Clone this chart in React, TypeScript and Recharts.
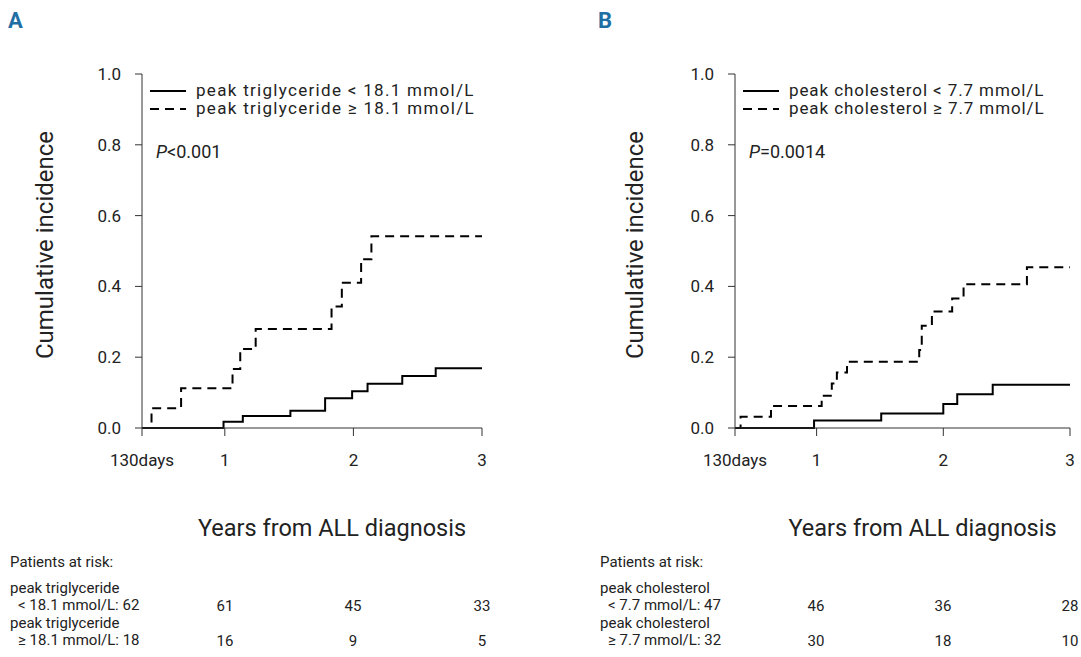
import React from "react";
import { LineChart, Line, XAxis, YAxis } from "recharts";

const xTicks = [0.356, 1, 2, 3];
const yTicks = [0, 0.2, 0.4, 0.6, 0.8, 1.0];

const aLowX = [0.356, 0.99, 1.14, 1.51, 1.78, 1.99, 2.11, 2.38, 2.64, 3];
const aLowY = [0, 0.018, 0.034, 0.049, 0.084, 0.104, 0.125, 0.147, 0.169, 0.169];
const aHighX = [0.356, 0.43, 0.66, 1.06, 1.12, 1.24, 1.83, 1.91, 2.06, 2.14, 3];
const aHighY = [0, 0.056, 0.112, 0.167, 0.223, 0.28, 0.343, 0.41, 0.477, 0.542, 0.542];

const bLowX = [0.356, 0.98, 1.51, 2.0, 2.11, 2.39, 3];
const bLowY = [0, 0.021, 0.041, 0.068, 0.095, 0.122, 0.122];
const bHighX = [0.356, 0.4, 0.64, 1.04, 1.12, 1.16, 1.24, 1.81, 1.83, 1.91, 2.07, 2.16, 2.66, 3];
const bHighY = [0, 0.032, 0.062, 0.091, 0.126, 0.157, 0.187, 0.22, 0.289, 0.329, 0.366, 0.406, 0.454, 0.454];

const riskA = { low: [62, 61, 45, 33], high: [18, 16, 9, 5] };
const riskB = { low: [47, 46, 36, 28], high: [32, 30, 18, 10] };

const FONT = "'Roboto', sans-serif";
const zip = (xs: number[], ys: number[]) => xs.map((x, i) => ({ x, y: ys[i] }));

function Panel({ left, width, yw, low, high, legendLow, legendHigh, pText, label, risk, riskName, riskLow, riskHigh, tickPx, ls }: any) {
  const plotRight = width - (width === 540 ? 58 : 11);
  return (
    <div style={{ position: "absolute", left, top: 0, width, height: 657, fontFamily: FONT, color: "#222" }}>
      <LineChart width={width} height={657} margin={{ top: 74, left: 0, right: width - plotRight, bottom: 189 }}>
        <XAxis type="number" dataKey="x" domain={[0.356, 3]} ticks={xTicks} allowDataOverflow
          tickFormatter={(v: number) => (v < 0.5 ? "130days" : String(v))}
          tick={{ fill: "#222", fontSize: 17, fontFamily: FONT }} tickSize={8} tickMargin={18}
          stroke="#333" height={40} />
        <YAxis type="number" domain={[0, 1]} ticks={yTicks} width={yw}
          tickFormatter={(v: number) => v.toFixed(1)}
          tick={{ fill: "#222", fontSize: 17, fontFamily: FONT }} tickSize={7} tickMargin={14} stroke="#333" />
        <Line data={zip(low[0], low[1])} dataKey="y" type="stepAfter" stroke="#000" strokeWidth={2} dot={false} isAnimationActive={false} />
        <Line data={zip(high[0], high[1])} dataKey="y" type="stepAfter" stroke="#000" strokeWidth={2} strokeDasharray="9 6" dot={false} isAnimationActive={false} />
      </LineChart>
      <div style={{ position: "absolute", left: 8, top: 8, fontSize: 22, fontWeight: "bold", color: "#1f6fa5" }}>{label}</div>
      <svg style={{ position: "absolute", left: yw + 6, top: 82 }} width={42} height={36}>
        <line x1={2} y1={9} x2={38} y2={9} stroke="#000" strokeWidth={2} />
        <line x1={2} y1={27} x2={38} y2={27} stroke="#000" strokeWidth={2} strokeDasharray="9 6" />
      </svg>
      <div style={{ position: "absolute", left: yw + 54, top: 81, fontSize: 17, lineHeight: "19px", whiteSpace: "nowrap", letterSpacing: ls }}>{legendLow}</div>
      <div style={{ position: "absolute", left: yw + 54, top: 99, fontSize: 17, lineHeight: "19px", whiteSpace: "nowrap", letterSpacing: ls }}>{legendHigh}</div>
      <div style={{ position: "absolute", left: yw + 14, top: 141, fontSize: 18 }}><i>P</i>{pText}</div>
      <div style={{ position: "absolute", left: 20, top: 245, transform: "translate(-50%,-50%) rotate(-90deg)", transformOrigin: "center", fontSize: 24, whiteSpace: "nowrap", marginLeft: 25 }}>Cumulative incidence</div>
      <div style={{ position: "absolute", left: (yw + plotRight) / 2 + 20, top: 514, transform: "translateX(-50%)", fontSize: 23.5, whiteSpace: "nowrap" }}>Years from ALL diagnosis</div>
      <div style={{ position: "absolute", left: riskName.x, top: 554, fontSize: 15, lineHeight: "17.5px", whiteSpace: "nowrap" }}>
        <div>Patients at risk:</div>
        <div style={{ marginTop: 8 }}>{riskName.n}</div>
        <div style={{ paddingLeft: 8 }}>{riskLow}: {risk.low[0]}</div>
        <div>{riskName.n}</div>
        <div style={{ paddingLeft: 8 }}>{riskHigh}: {risk.high[0]}</div>
      </div>
      {[1, 2, 3].map((i) => (
        <React.Fragment key={i}>
          <div style={{ position: "absolute", left: tickPx[i], top: 597, transform: "translateX(-50%)", fontSize: 15 }}>{risk.low[i]}</div>
          <div style={{ position: "absolute", left: tickPx[i], top: 632, transform: "translateX(-50%)", fontSize: 15 }}>{risk.high[i]}</div>
        </React.Fragment>
      ))}
    </div>
  );
}

export default function App() {
  return (
    <div style={{ position: "fixed", left: 0, top: 0, width: 1081, height: 657, background: "#fff" }}>
      <Panel left={0} width={540} yw={142} low={[aLowX, aLowY]} high={[aHighX, aHighY]} ls="1.3px"
        legendLow="peak triglyceride < 18.1 mmol/L" legendHigh="peak triglyceride ≥ 18.1 mmol/L" pText="<0.001" label="A"
        risk={riskA} riskName={{ x: 10, n: "peak triglyceride" }} riskLow="< 18.1 mmol/L" riskHigh="≥ 18.1 mmol/L"
        tickPx={[142, 225, 353, 482]} />
      <Panel left={590} width={491} yw={145} low={[bLowX, bLowY]} high={[bHighX, bHighY]} ls="0.9px"
        legendLow="peak cholesterol < 7.7 mmol/L" legendHigh="peak cholesterol ≥ 7.7 mmol/L" pText="=0.0014" label="B"
        risk={riskB} riskName={{ x: 10, n: "peak cholesterol" }} riskLow="< 7.7 mmol/L" riskHigh="≥ 7.7 mmol/L"
        tickPx={[145, 226, 353, 480]} />
    </div>
  );
}
